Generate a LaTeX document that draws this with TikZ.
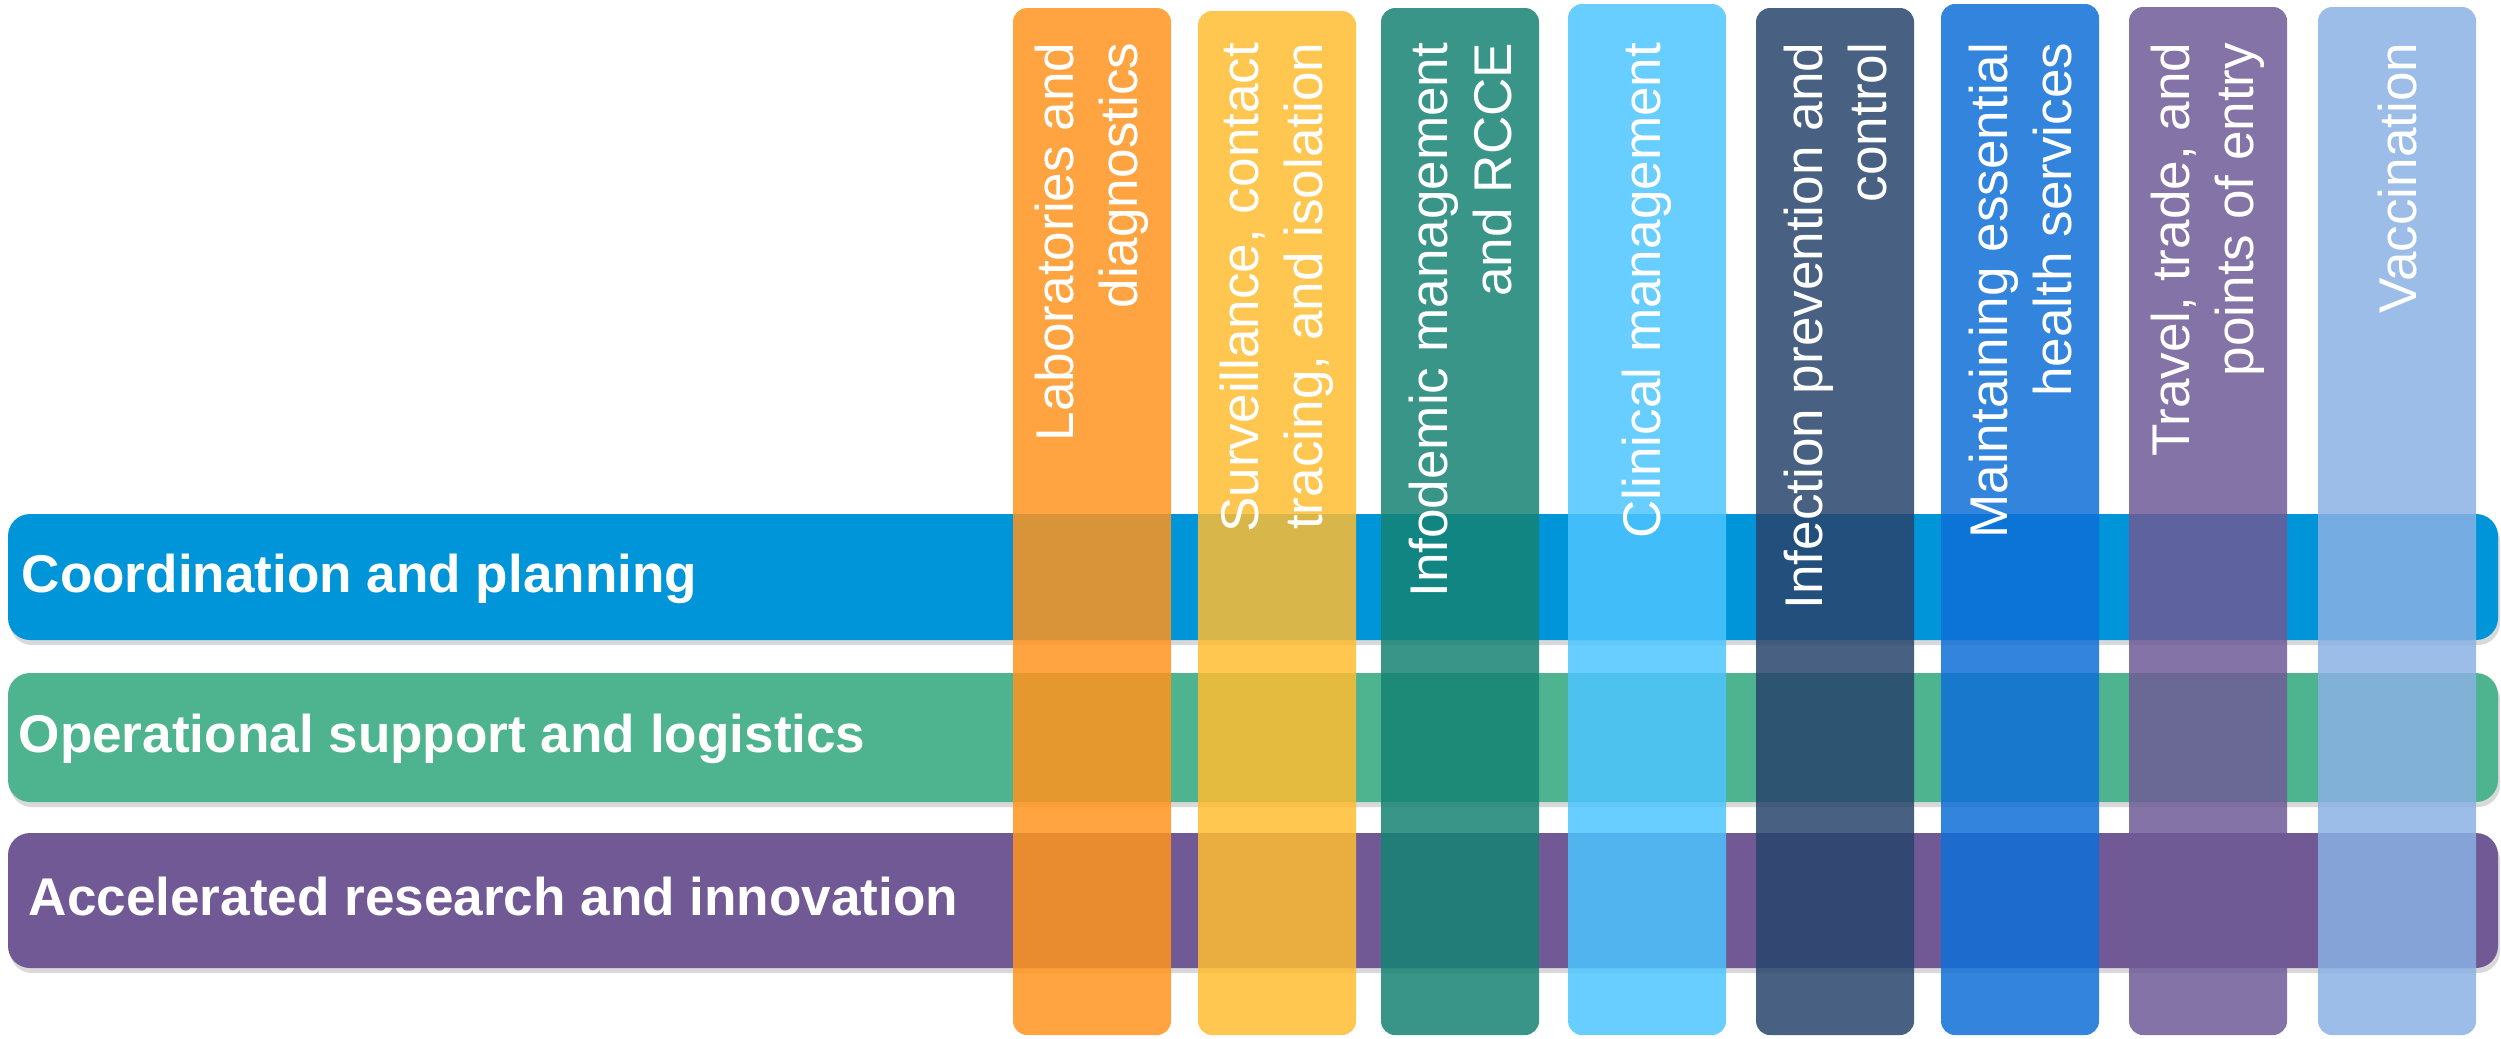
\documentclass[tikz,border=0pt]{standalone}
\usepackage{fontspec}
\setmainfont{Liberation Sans}
\usetikzlibrary{shadows}
\definecolor{CoordB}{RGB}{0,148,216}
\definecolor{OpsG}  {RGB}{78,180,143}
\definecolor{ResP}  {RGB}{113,89,150}
\definecolor{LabO}  {RGB}{255,148,30}
\definecolor{SurvY} {RGB}{255,188,49}
\definecolor{InfoT} {RGB}{21,131,115}
\definecolor{ClinS} {RGB}{77,197,255}
\definecolor{IpcN}  {RGB}{40,68,108}
\definecolor{EssB}  {RGB}{15,111,215}
\definecolor{TravP} {RGB}{111,91,150}
\definecolor{VaccL} {RGB}{138,177,228}
\newcommand{\pillarfont}{\fontsize{15.1}{18.2}\selectfont}

\begin{document}
\begin{tikzpicture}[x=0.01cm,y=-0.01cm,
    bar/.style={rounded corners=0.22cm,
      drop shadow={shadow xshift=0.02cm,shadow yshift=-0.05cm,opacity=0.3}},
    barlabel/.style={anchor=base west,inner sep=0,text=white,font=\pillarfont\bfseries},
    pillar/.style={rounded corners=0.14cm,fill opacity=0.85},
    pillarlabel/.style={rotate=90,anchor=east,inner sep=0,align=right,
      text=white,font=\pillarfont}]
  \useasboundingbox (0,0) rectangle (2501,1038);
  % cross-cutting rows
  \fill[bar,CoordB] (8,514) rectangle (2498,640);
  \fill[bar,OpsG]   (8,673) rectangle (2498,802);
  \fill[bar,ResP]   (8,833) rectangle (2498,968);
  \node[barlabel] (coord) at (21,592) {Coordination and planning};
  \node[barlabel] (ops)   at (18,752) {Operational support and logistics};
  \node[barlabel] (res)   at (28,915) {Accelerated research and innovation};
  % technical pillars on top
  \foreach \x/\t/\c/\n/\txt in {
      1013/8/LabO/lab/{Laboratories and\\diagnostics},
      1198/11/SurvY/surv/{Surveillance, contact\\tracing, and isolation},
      1381/8/InfoT/info/{Infodemic management\\and RCCE},
      1568/4/ClinS/clin/{Clinical management},
      1756/8/IpcN/ipc/{Infection prevention and\\control},
      1941/4/EssB/ess/{Maintaining essential\\health services},
      2129/7/TravP/trav/{Travel, trade, and\\points of entry},
      2318/7/VaccL/vacc/{Vaccination}}{
    \fill[pillar,\c] (\x,\t) rectangle ++(158,1035-\t);
    \node[pillarlabel] (\n) at (\x+79,42) {\txt};
  }
\end{tikzpicture}
\end{document}
